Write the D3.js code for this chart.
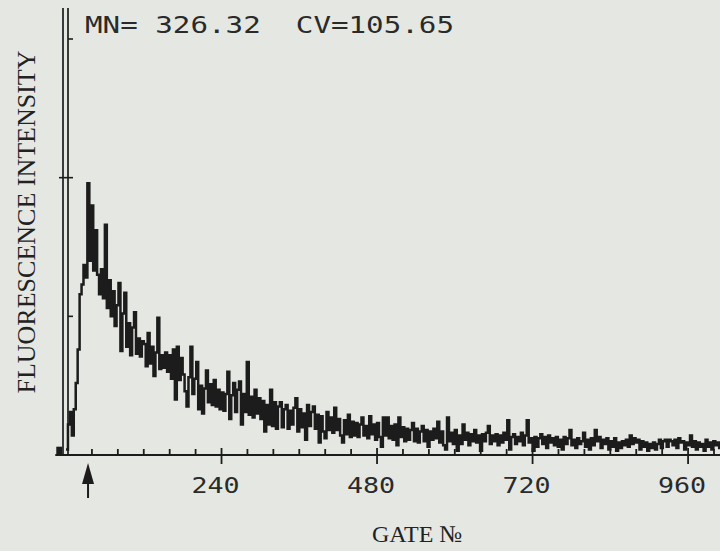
<!DOCTYPE html>
<html>
<head>
<meta charset="utf-8">
<script src="https://cdn.jsdelivr.net/npm/d3@7/dist/d3.min.js"></script>
<style>
  html, body { margin: 0; padding: 0; background: #e5e8e2; }
  svg { display: block; }
</style>
</head>
<body>
<script>
// Histogram of fluorescence intensity per gate (3 gates per bin, starting at gate 0)
const binWidth = 3;
const counts = [
  4, 22, 31, 14, 33, 52, 76, 116, 123, 137,
  128, 196, 140, 180, 133, 162, 130, 116, 134, 113,
  166, 106, 126, 100, 118, 93, 108, 124, 75, 102,
  117, 78, 95, 72, 92, 103, 73, 84, 71, 82,
  80, 64, 88, 66, 78, 57, 74, 99, 62, 72,
  63, 74, 60, 72, 55, 76, 40, 78, 54, 70,
  58, 46, 35, 56, 78, 44, 55, 67, 33, 50,
  30, 48, 61, 38, 51, 36, 54, 35, 47, 33,
  45, 32, 44, 60, 26, 43, 52, 31, 47, 53,
  22, 44, 31, 67, 29, 42, 27, 47, 30, 41,
  26, 39, 17, 36, 22, 47, 21, 38, 19, 35,
  38, 20, 33, 36, 19, 32, 22, 34, 41, 17,
  33, 20, 30, 11, 36, 21, 31, 35, 19, 29,
  9, 28, 17, 12, 31, 18, 27, 16, 34, 18,
  26, 14, 9, 25, 15, 29, 13, 24, 14, 23,
  13, 22, 27, 14, 21, 12, 28, 15, 22, 11,
  23, 13, 6, 27, 14, 27, 12, 21, 11, 22,
  7, 27, 13, 20, 10, 19, 11, 18, 23, 10,
  19, 9, 17, 21, 10, 18, 6, 17, 11, 19,
  12, 24, 9, 17, 7, 4, 27, 10, 16, 8,
  18, 3, 14, 8, 22, 11, 16, 7, 15, 10,
  18, 9, 14, 3, 15, 10, 16, 21, 8, 14,
  10, 15, 7, 14, 9, 16, 11, 25, 4, 13,
  15, 8, 13, 10, 16, 7, 14, 25, 9, 12,
  3, 13, 6, 12, 15, 8, 13, 5, 14, 9,
  12, 7, 13, 6, 11, 4, 13, 8, 12, 18,
  7, 11, 5, 12, 8, 10, 16, 6, 11, 4,
  12, 7, 18, 10, 13, 5, 11, 8, 12, 4,
  10, 6, 12, 3, 9, 5, 10, 7, 11, 6,
  14, 8, 12, 9, 11, 4, 10, 6, 9, 3,
  8, 5, 9, 4, 8, 11, 5, 10, 11, 6,
  11, 10, 7, 11, 5, 12, 9, 10, 4, 9,
  7, 14, 6, 10, 4, 9, 6, 8, 3, 11,
  6, 9, 4, 10, 7, 9, 5
];

// Events piled below the first gate, drawn left of the axis
const underflow = { from: -15, to: -6, count: 6 };

// Axis definitions
const xTickStep = 40;
const xTickMax = 1000;
const xLabels = [240, 480, 720, 960];
const yTicks = [100, 200, 300];
const yMajor = [200];
const markerGate = 34;

const statsText = "MN= 326.32  CV=105.65";
const xTitle = "GATE \u2116";
const yTitle = "FLUORESCENCE INTENSITY";

const W = 720, H = 551;
const ink = "#1c1c1c";

const svg = d3.select("body").append("svg")
  .attr("width", W).attr("height", H);

svg.append("rect").attr("width", W).attr("height", H).attr("fill", "#e5e8e2");

const x = d3.scaleLinear().domain([0, 1000]).range([66, 714]);
const y = d3.scaleLinear().domain([0, 300]).range([455, 39]);

// Histogram trace as a stepped line
const pts = counts.map((c, i) => [i * binWidth, c]);
pts.push([counts.length * binWidth, counts[counts.length - 1]]);
const line = d3.line()
  .x(d => x(d[0]))
  .y(d => y(d[1]))
  .curve(d3.curveStepAfter);

svg.append("path")
  .attr("d", line(pts))
  .attr("fill", "none")
  .attr("stroke", ink)
  .attr("stroke-width", 2.5)
  .attr("stroke-linejoin", "miter");

svg.append("rect")
  .attr("x", x(underflow.from))
  .attr("y", y(underflow.count))
  .attr("width", x(underflow.to) - x(underflow.from))
  .attr("height", y(0) - y(underflow.count))
  .attr("fill", ink);

// X axis baseline
svg.append("line")
  .attr("x1", x(underflow.from) - 1).attr("x2", W)
  .attr("y1", y(0)).attr("y2", y(0))
  .attr("stroke", ink).attr("stroke-width", 1.8);

// X ticks: minor upward, labelled ones crossing the baseline
const xTickVals = d3.range(xTickStep, xTickMax + 1, xTickStep);
svg.append("g").selectAll("line")
  .data(xTickVals)
  .join("line")
  .attr("x1", d => x(d)).attr("x2", d => x(d))
  .attr("y1", d => xLabels.includes(d) ? y(0) - 7 : y(0) - 6)
  .attr("y2", d => xLabels.includes(d) ? y(0) + 9 : y(0))
  .attr("stroke", ink).attr("stroke-width", 1.8);

// X tick labels in a wide printer-style mono face
svg.append("g").selectAll("text")
  .data(xLabels)
  .join("text")
  .attr("transform", d => `translate(${x(d) - 6},493) scale(1.27,1)`)
  .attr("text-anchor", "middle")
  .attr("font-family", "DejaVu Sans Mono")
  .attr("font-size", 21)
  .attr("fill", "#2a2a2a")
  .text(d => d);

// Double Y axis line
[63, 68].forEach(px => {
  svg.append("line")
    .attr("x1", px).attr("x2", px)
    .attr("y1", 8).attr("y2", y(0))
    .attr("stroke", ink).attr("stroke-width", 1.7);
});

// Y ticks
svg.append("g").selectAll("line")
  .data(yTicks)
  .join("line")
  .attr("x1", d => yMajor.includes(d) ? 59 : 68)
  .attr("x2", 73)
  .attr("y1", d => y(d)).attr("y2", d => y(d))
  .attr("stroke", ink).attr("stroke-width", 1.6);

// Gate marker arrow below the axis
const ax = x(markerGate);
svg.append("path")
  .attr("d", `M${ax},463 L${ax + 6},484 L${ax - 6},484 Z`)
  .attr("fill", ink);
svg.append("line")
  .attr("x1", ax).attr("x2", ax)
  .attr("y1", 470).attr("y2", 498)
  .attr("stroke", ink).attr("stroke-width", 2);

// Statistics readout
svg.append("text")
  .attr("transform", "translate(85,33) scale(1.27,1)")
  .attr("font-family", "DejaVu Sans Mono")
  .attr("font-size", 23)
  .attr("fill", "#2a2a2a")
  .style("white-space", "pre")
  .text(statsText);

// Axis titles
svg.append("text")
  .attr("x", 372).attr("y", 542)
  .attr("font-family", "Liberation Serif")
  .attr("font-size", 24)
  .attr("fill", "#222")
  .text(xTitle);

svg.append("text")
  .attr("transform", "translate(35,222) rotate(-90)")
  .attr("text-anchor", "middle")
  .attr("font-family", "Liberation Serif")
  .attr("font-size", 26)
  .attr("fill", "#222")
  .text(yTitle);
</script>
</body>
</html>
